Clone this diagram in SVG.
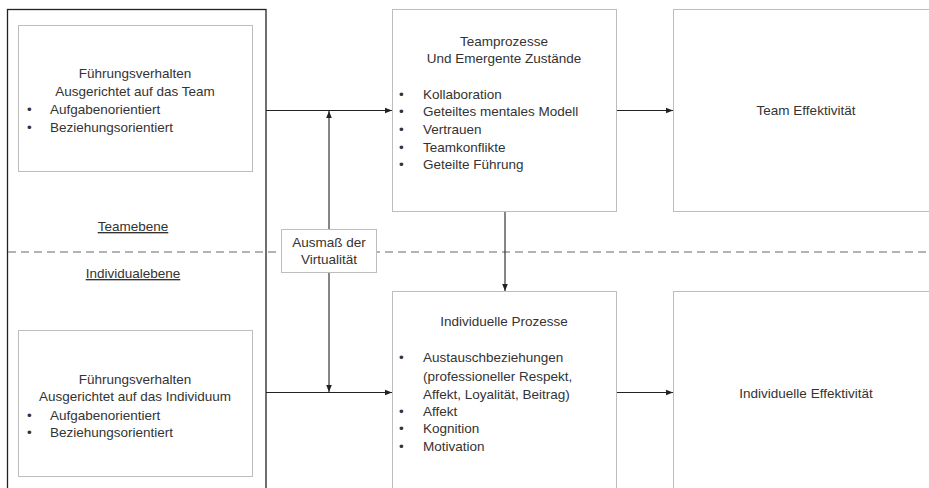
<svg xmlns="http://www.w3.org/2000/svg" width="929" height="488" viewBox="0 0 929 488">
<style>
text{font-family:"Liberation Sans",Arial,sans-serif;font-size:13.5px;fill:#333}
.c{text-anchor:middle}
.box{fill:#fff;stroke:#bdbdbd;stroke-width:1}
.outer{fill:none;stroke:#222;stroke-width:1.3}
.conn{stroke:#222;stroke-width:1.1;fill:none}
.u{text-decoration:underline}
</style>
<defs>
<marker id="ah" viewBox="0 0 10 10" refX="10" refY="5" markerWidth="7" markerHeight="7" markerUnits="userSpaceOnUse" orient="auto">
<path d="M0,1 L10,5 L0,9 z" fill="#222"/>
</marker>
</defs>
<rect width="929" height="488" fill="#fff"/>

<g id="outer">
<rect class="outer" x="7.5" y="9.5" width="258.5" height="490"/>
</g>

<g id="levels">
<line x1="8" y1="252" x2="929" y2="252" stroke="#9a9a9a" stroke-width="1.5" stroke-dasharray="8,5"/>
<text class="c u" x="133" y="231">Teamebene</text>
<text class="c u" x="133" y="278">Individualebene</text>
</g>

<g id="fuehrung-team">
<rect class="box" x="18.5" y="25.5" width="234" height="146"/>
<text class="c" x="135" y="78">Führungsverhalten</text>
<text class="c" x="135" y="96">Ausgerichtet auf das Team</text>
<text x="27" y="114">•</text><text x="50" y="114">Aufgabenorientiert</text>
<text x="27" y="132">•</text><text x="50" y="132">Beziehungsorientiert</text>
</g>

<g id="fuehrung-individuum">
<rect class="box" x="18.5" y="330.5" width="234" height="146"/>
<text class="c" x="135" y="384">Führungsverhalten</text>
<text class="c" x="135" y="401">Ausgerichtet auf das Individuum</text>
<text x="27" y="420">•</text><text x="50" y="420">Aufgabenorientiert</text>
<text x="27" y="437">•</text><text x="50" y="437">Beziehungsorientiert</text>
</g>

<g id="virtualitaet">
<rect class="box" x="281.5" y="229.5" width="95" height="43"/>
<text class="c" x="329" y="247">Ausmaß der</text>
<text class="c" x="329" y="264">Virtualität</text>
</g>

<g id="teamprozesse">
<rect class="box" x="392.5" y="9.5" width="224" height="202"/>
<text class="c" x="504" y="46">Teamprozesse</text>
<text class="c" x="504" y="63">Und Emergente Zustände</text>
<text x="399" y="99">•</text><text x="423" y="99">Kollaboration</text>
<text x="399" y="116">•</text><text x="423" y="116">Geteiltes mentales Modell</text>
<text x="399" y="134">•</text><text x="423" y="134">Vertrauen</text>
<text x="399" y="152">•</text><text x="423" y="152">Teamkonflikte</text>
<text x="399" y="169">•</text><text x="423" y="169">Geteilte Führung</text>
</g>

<g id="individuelle-prozesse">
<rect class="box" x="392.5" y="291.5" width="224" height="210"/>
<text class="c" x="504" y="326">Individuelle Prozesse</text>
<text x="399" y="362">•</text><text x="423" y="362">Austauschbeziehungen</text>
<text x="423" y="381">(professioneller Respekt,</text>
<text x="423" y="399">Affekt, Loyalität, Beitrag)</text>
<text x="399" y="416">•</text><text x="423" y="416">Affekt</text>
<text x="399" y="433">•</text><text x="423" y="433">Kognition</text>
<text x="399" y="451">•</text><text x="423" y="451">Motivation</text>
</g>

<g id="team-effektivitaet">
<rect class="box" x="673.5" y="9.5" width="270" height="202"/>
<text class="c" x="806" y="115">Team Effektivität</text>
</g>

<g id="individuelle-effektivitaet">
<rect class="box" x="673.5" y="291.5" width="270" height="210"/>
<text class="c" x="806" y="398">Individuelle Effektivität</text>
</g>

<g id="connectors">
<line class="conn" x1="266" y1="110.5" x2="392" y2="110.5" marker-end="url(#ah)"/>
<line class="conn" x1="266" y1="392.5" x2="392" y2="392.5" marker-end="url(#ah)"/>
<line class="conn" x1="329" y1="229" x2="329" y2="111" marker-end="url(#ah)"/>
<line class="conn" x1="329" y1="273" x2="329" y2="392" marker-end="url(#ah)"/>
<line class="conn" x1="505" y1="212" x2="505" y2="291" marker-end="url(#ah)"/>
<line class="conn" x1="617" y1="110.5" x2="673" y2="110.5" marker-end="url(#ah)"/>
<line class="conn" x1="617" y1="392.5" x2="673" y2="392.5" marker-end="url(#ah)"/>
</g>
</svg>
